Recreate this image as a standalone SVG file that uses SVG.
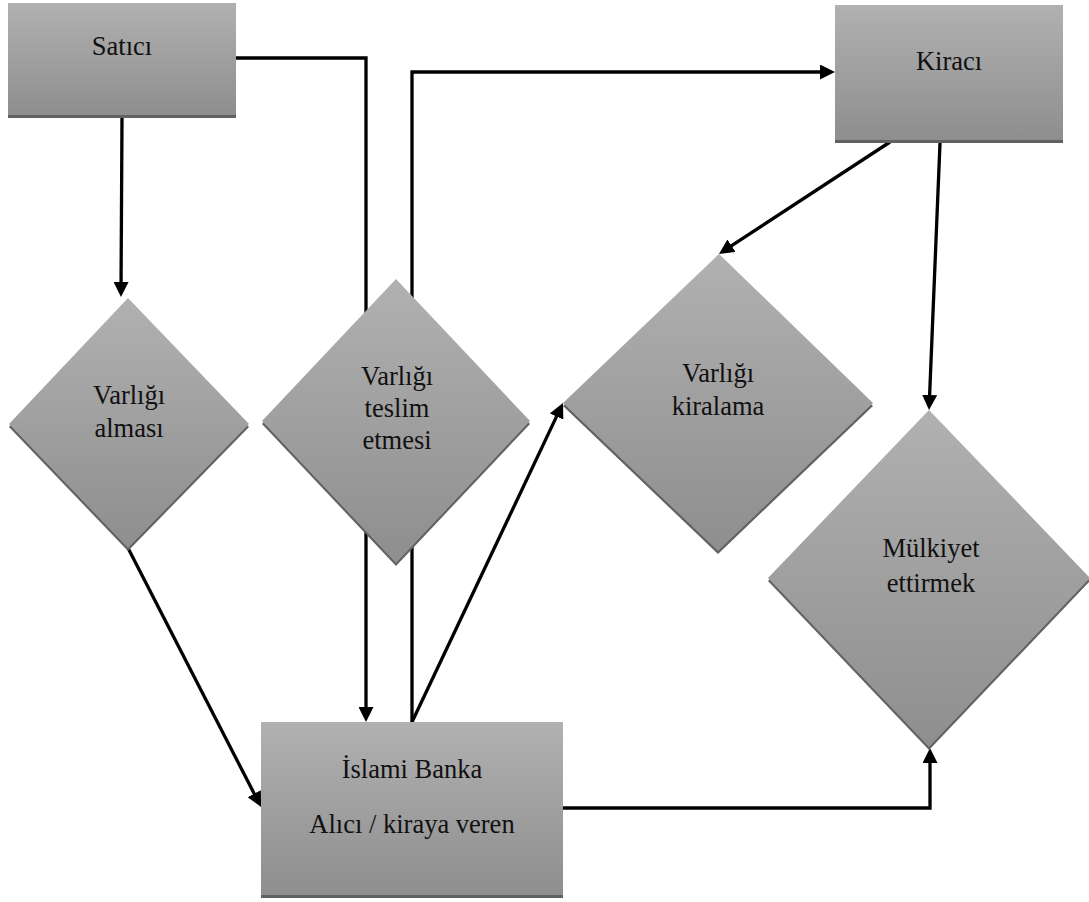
<svg xmlns="http://www.w3.org/2000/svg" width="1089" height="902" viewBox="0 0 1089 902">
  <style>
    .shape { fill: url(#grad); }
    .shadow { fill: #616161; }
    .conn { fill: none; stroke: #000; stroke-width: 3.3; marker-end: url(#arrow); }
    .label { font-family: "Liberation Serif", "DejaVu Serif", serif; font-size: 26.5px; fill: #111; text-anchor: middle; }
  </style>
  <defs>
    <linearGradient id="grad" x1="0" y1="0" x2="0" y2="1">
      <stop offset="0" stop-color="#b1b1b1"/>
      <stop offset="1" stop-color="#8e8e8e"/>
    </linearGradient>
    <marker id="arrow" markerUnits="userSpaceOnUse" markerWidth="15" markerHeight="15" viewBox="0 0 15 15" refX="9" refY="7.5" orient="auto">
      <path d="M0,0 L15,7.5 L0,15 z" fill="#000"/>
    </marker>
  </defs>
  <rect width="1089" height="902" fill="#fff"/>

  <g id="connectors">
    <path class="conn" d="M122,118 L121,291"/>
    <path class="conn" d="M236,58 H366 V716"/>
    <path class="conn" d="M412,722 V72 H829"/>
    <path class="conn" d="M128,548 L258.3,801.7"/>
    <path class="conn" d="M412,722 L560.4,408.4"/>
    <path class="conn" d="M890,142 L724,250.7"/>
    <path class="conn" d="M940,143 L929.25,404"/>
    <path class="conn" d="M563,808 H930 V754"/>
  </g>

  <g id="satici">
    <rect class="shadow" x="8" y="6" width="228" height="112"/>
    <rect class="shape" x="8" y="3" width="228" height="112"/>
    <text class="label" x="122" y="55">Satıcı</text>
  </g>

  <g id="kiraci">
    <rect class="shadow" x="835" y="8" width="228" height="135"/>
    <rect class="shape" x="835" y="5" width="228" height="135"/>
    <text class="label" x="949" y="70">Kiracı</text>
  </g>

  <g id="varligi-almasi">
    <polygon class="shadow" points="128,301 249,427 128,551 9,427"/>
    <polygon class="shape" points="128,298 249,424 128,548 9,424"/>
    <text class="label" x="129" y="404">Varlığı</text>
    <text class="label" x="129" y="437">alması</text>
  </g>

  <g id="varligi-teslim">
    <polygon class="shadow" points="396,282 530,424 396,566 262,424"/>
    <polygon class="shape" points="396,279 530,421 396,563 262,421"/>
    <text class="label" x="397" y="385">Varlığı</text>
    <text class="label" x="397" y="417">teslim</text>
    <text class="label" x="397" y="449">etmesi</text>
  </g>

  <g id="varligi-kiralama">
    <polygon class="shadow" points="719,257 873,406 718,554 563,406"/>
    <polygon class="shape" points="719,254 873,403 718,551 563,403"/>
    <text class="label" x="718" y="382">Varlığı</text>
    <text class="label" x="718" y="415">kiralama</text>
  </g>

  <g id="mulkiyet">
    <polygon class="shadow" points="929,413 1090,581 929,750 768,581"/>
    <polygon class="shape" points="929,410 1090,578 929,747 768,578"/>
    <text class="label" x="931" y="557">Mülkiyet</text>
    <text class="label" x="931" y="592">ettirmek</text>
  </g>

  <g id="islami-banka">
    <rect class="shadow" x="261" y="725" width="302" height="173"/>
    <rect class="shape" x="261" y="722" width="302" height="173"/>
    <text class="label" x="412" y="778">İslami Banka</text>
    <text class="label" x="412" y="833">Alıcı / kiraya veren</text>
  </g>
</svg>
